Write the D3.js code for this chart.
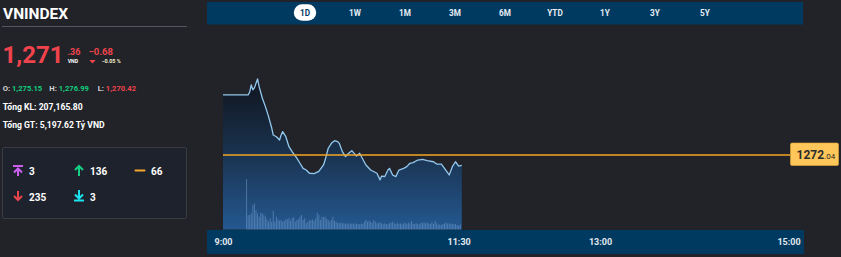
<!DOCTYPE html>
<html><head><meta charset="utf-8">
<script src="https://cdn.jsdelivr.net/npm/d3@7"></script>
<style>
html,body{margin:0;padding:0;background:#212329;overflow:hidden}
svg{display:block;font-family:Roboto,"Noto Sans",sans-serif}
</style></head><body>
<svg id="c" width="841" height="257"></svg>
<script>
// ---------- data ----------
const symbol = "VNINDEX";
const ranges = ["1D","1W","1M","3M","6M","YTD","1Y","3Y","5Y"];
const selectedRange = "1D";
const axisTicks = ["9:00","11:30","13:00","15:00"];
const refPrice = 1272.04;
const lastPrice = 1271.36;
const change = -0.68;
const changePct = -0.05;
const statLabels = ["O:","H:","L:"];
const statValues = [1275.15, 1276.99, 1270.42];
const totalVolume = "207,165.80";
const totalValue = "5,197.62";
const breadthKeys = ["ceiling","up","flat","down","floor"];
const breadthValues = [3, 136, 66, 235, 3];

const priceTimes = ["9:00","9:16","9:17","9:18","9:19","9:20","9:22","9:23","9:25","9:27","9:29","9:31","9:32","9:34","9:36","9:37","9:38","9:40","9:42","9:44","9:47","9:49","9:51","9:53","9:55","9:58","10:01","10:04","10:05","10:07","10:09","10:11","10:13","10:14","10:16","10:18","10:20","10:22","10:25","10:27","10:29","10:31","10:34","10:38","10:40","10:41","10:43","10:45","10:46","10:48","10:50","10:52","10:55","10:57","10:59","11:01","11:04","11:07","11:10","11:14","11:16","11:19","11:21","11:24","11:26","11:28","11:30","11:32"];
const priceValues = [1275.95,1275.95,1276.14,1276.60,1276.28,1276.41,1276.99,1276.49,1275.75,1275.19,1274.54,1273.80,1273.34,1273.23,1273.02,1273.34,1273.56,1273.23,1272.58,1272.26,1271.83,1271.50,1271.17,1271.06,1270.85,1270.83,1270.97,1271.39,1271.71,1272.48,1272.80,1272.97,1272.91,1272.80,1272.26,1271.93,1272.15,1272.32,1271.97,1272.15,1271.76,1271.39,1271.06,1270.85,1270.42,1270.67,1270.64,1271.06,1271.17,1270.74,1270.63,1271.06,1271.17,1271.28,1271.50,1271.54,1271.71,1271.76,1271.67,1271.60,1271.45,1271.45,1271.17,1270.74,1271.28,1271.60,1271.32,1271.36];

const volStart = "9:15"; // one bar per minute
const volumes = [50,14,14,15.7,24,25.7,19,15.7,12.3,16.3,
 15.7,14,12.3,9.7,7.3,10.7,7.3,18.3,7.3,12.3,
 9.7,8.3,9,7.3,8.3,9.7,9.7,10.7,8,10.7,
 11.7,7.3,9,9.7,12.3,14,9,10.7,5.7,7.3,8.5,
 9,9.7,8,10.7,16.3,14,9,12.3,11.7,12.3,10,
 9,7.3,9,12.3,8,7.3,6.3,5.7,6.7,5.7,6,
 5,5.7,4.7,5.7,5,5.7,4.7,5.7,5,4.7,5.3,
 5,7.3,9,7.3,8.3,7.3,6.3,9,7.3,5.7,6.5,
 6.3,5.7,4.7,5.7,5,4.7,5.7,6.3,7.3,5.7,5,
 6.3,5,5.7,4.7,5.7,6.3,5,6.3,5.7,8,5.3,
 5,5.7,5,4.7,6.3,5.7,6.7,5.7,6.3,5.7,5,
 6.7,5,8.3,5.7,4.3,4.7,4,5,5.7,6.3,5.4,
 5.7,5,5.7,4.7,5,4,3.3,4.5];

// ---------- drawing ----------
const svg = d3.select("#c");
const parse = d3.timeParse("%H:%M");
const RED = "#f0434c", GREEN = "#10cf7c";

// left panel
svg.append("text").attr("x",3).attr("y",18.5).attr("fill","#fff")
  .attr("font-size",15.5).attr("font-weight",700).text(symbol);
svg.append("line").attr("x1",2).attr("x2",187).attr("y1",26.5).attr("y2",26.5)
  .attr("stroke","#55585f").attr("stroke-width",1);

const fmtInt = d3.format(",");
const intPart = Math.floor(lastPrice);
const decPart = d3.format(".2f")(lastPrice).split(".")[1];
svg.append("text").attr("x",2.5).attr("y",63.3).attr("fill",RED)
  .attr("font-size",24).attr("font-weight",700).text(fmtInt(intPart));
svg.append("text").attr("x",67.5).attr("y",55.2).attr("fill",RED)
  .attr("font-size",9).attr("font-weight",700).text("." + decPart);
svg.append("text").attr("x",67.7).attr("y",63.3).attr("fill","#fff")
  .attr("font-size",5.2).attr("font-weight",700).text("VND");
svg.append("text").attr("x",88.5).attr("y",55.2).attr("fill",RED)
  .attr("font-size",9.5).attr("font-weight",700).text(d3.format(".2f")(change));
svg.append("path").attr("d","M89.3,60 L95.7,60 L92.5,63.5 Z").attr("fill",RED);
svg.append("text").attr("x",101.5).attr("y",63.3).attr("fill","#f3ecc8")
  .attr("font-size",5.4).attr("font-weight",700).text(d3.format(".2f")(changePct) + " %");

const statX = [2.7, 49.3, 97.7];
const statColors = [GREEN, GREEN, RED];
statLabels.forEach((l,i)=>{
  const t = svg.append("text").attr("x",statX[i]).attr("y",91).attr("font-size",7.6).attr("font-weight",700);
  t.append("tspan").attr("fill","#d8d8d8").text(l + " ");
  t.append("tspan").attr("fill",statColors[i]).text(d3.format(",.2f")(statValues[i]));
});
svg.append("text").attr("x",2.7).attr("y",110).attr("fill","#fff").attr("font-size",8.6)
  .attr("font-weight",700).text("Tổng KL: " + totalVolume);
svg.append("text").attr("x",2.7).attr("y",128.3).attr("fill","#fff").attr("font-size",8.6)
  .attr("font-weight",700).text("Tổng GT: " + totalValue + " Tỷ VND");

// breadth box
svg.append("rect").attr("x",2.5).attr("y",147.5).attr("width",184).attr("height",71)
  .attr("rx",1.5).attr("fill","#1d222c").attr("stroke","#393c43").attr("stroke-width",1);
const icons = {
  ceiling:{c:"#cc5ef0", d:"M13,166 H23 M14,172.5 L18,168.5 L22,172.5 M18,168.5 V176"},
  up:{c:"#15cf84", d:"M75,170 L79,166 L83,170 M79,166 V176"},
  flat:{c:"#f5a830", d:"M135.5,170.5 H144.5"},
  down:{c:"#e8464c", d:"M18,191 V200 M14,196 L18,200 L22,196"},
  floor:{c:"#19e4f0", d:"M79,190 V198 M75,194.5 L79,198.5 L83,194.5 M74,200.5 H84"}
};
const bPos = [[29,175.3],[90,175.3],[151,175.3],[29,200.7],[90,200.7]];
breadthKeys.forEach((k,i)=>{
  svg.append("path").attr("d",icons[k].d).attr("fill","none").attr("stroke",icons[k].c)
    .attr("stroke-width",2).attr("stroke-linecap", k==="flat"?"round":"butt");
  svg.append("text").attr("x",bPos[i][0]).attr("y",bPos[i][1]).attr("fill","#fff")
    .attr("font-size",10).attr("font-weight",700).text(breadthValues[i]);
});

// top range bar
svg.append("rect").attr("x",207).attr("y",2).attr("width",596).attr("height",22.5).attr("fill","#003a61");
const rx = d3.scalePoint().domain(ranges).range([305,705]);
ranges.forEach(r=>{
  if(r===selectedRange){
    svg.append("rect").attr("x",rx(r)-11.2).attr("y",4.2).attr("width",22.4).attr("height",16.6)
      .attr("rx",8.3).attr("fill","#fff");
  }
  svg.append("text").attr("x",rx(r)).attr("y",16).attr("text-anchor","middle")
    .attr("font-size",8.2).attr("font-weight",700)
    .attr("fill", r===selectedRange ? "#003a61" : "#e6edf3").text(r);
});

// scales
const x = d3.scaleTime().domain([parse("9:00"), parse("15:00")]).range([223, 788.5]);
const y = d3.scaleLinear().domain([1267.22, 1280.31]).range([229, 28]);
const yv = d3.scaleLinear().domain([0, 50]).range([229, 179]);

const pts = priceTimes.map((t,i)=>({t:parse(t), v:priceValues[i]}));

const defs = svg.append("defs");
const g = defs.append("linearGradient").attr("id","ag").attr("gradientUnits","userSpaceOnUse")
  .attr("x1",0).attr("x2",0).attr("y1",80).attr("y2",229);
g.append("stop").attr("offset",0).attr("stop-color","#10151e");
g.append("stop").attr("offset",0.5).attr("stop-color","#1a3350");
g.append("stop").attr("offset",1).attr("stop-color","#245890");

const area = d3.area().x(d=>x(d.t)).y0(229.5).y1(d=>y(d.v)).curve(d3.curveLinear);
svg.append("path").datum(pts).attr("d",area).attr("fill","url(#ag)");

// volume bars
const v0 = parse(volStart);
svg.append("g").selectAll("rect").data(volumes).join("rect")
  .attr("x",(d,i)=>x(d3.timeMinute.offset(v0,i))-0.5)
  .attr("width",1)
  .attr("y",d=>yv(d))
  .attr("height",d=>229.5-yv(d))
  .attr("fill","#7eaee0").attr("opacity",0.45);

// price line
const line = d3.line().x(d=>x(d.t)).y(d=>y(d.v));
svg.append("path").datum(pts).attr("d",line).attr("fill","none")
  .attr("stroke","#93c8ee").attr("stroke-width",1.3).attr("stroke-linejoin","round");

// reference line + label
const yr = y(refPrice);
svg.append("line").attr("x1",x(parse("9:00"))).attr("x2",790).attr("y1",yr).attr("y2",yr)
  .attr("stroke","#f5a623").attr("stroke-width",1.4);
svg.append("rect").attr("x",790.5).attr("y",143).attr("width",48).attr("height",22.5)
  .attr("rx",1.5).attr("fill","#ffc65a").attr("stroke","#e8a93a").attr("stroke-width",0.6);
const rp = d3.format(".2f")(refPrice).split(".");
const rt = svg.append("text").attr("x",796.5).attr("y",158.6).attr("fill","#2b2b2b").attr("font-weight",700);
rt.append("tspan").attr("font-size",12).text(rp[0]);
rt.append("tspan").attr("font-size",8).attr("font-weight",400).text("." + rp[1]);

// bottom axis bar
svg.append("rect").attr("x",207).attr("y",230).attr("width",597).attr("height",24).attr("fill","#003a61");
const ax = svg.append("g").attr("transform","translate(0,230)")
  .call(d3.axisBottom(x).tickValues(axisTicks.map(parse)).tickFormat(d3.timeFormat("%-H:%M")).tickSize(0).tickPadding(0));
ax.select(".domain").remove();
ax.selectAll("text").attr("y",14.5).attr("dy",0).attr("fill","#e3e8ee")
  .attr("font-size",9).attr("font-weight",700).attr("font-family","Roboto, sans-serif");
</script>
</body></html>
